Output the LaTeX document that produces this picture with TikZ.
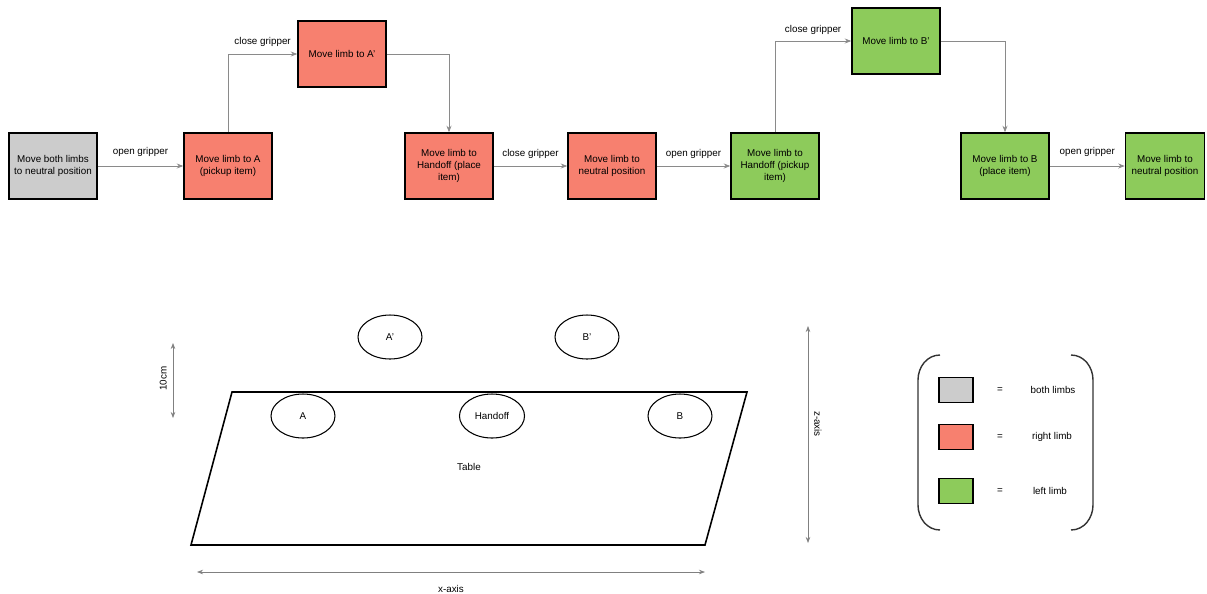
\documentclass[tikz,border=0pt]{standalone}
\usepackage{fontspec}
\setmainfont{Liberation Sans}
\usepackage{tikz}
\usetikzlibrary{arrows.meta,positioning,calc,shapes.geometric}
\definecolor{bothfill}{HTML}{CCCCCC}
\definecolor{rightfill}{HTML}{F7806F}
\definecolor{leftfill}{HTML}{8DCB5B}
\definecolor{linkgray}{HTML}{8A8A8A}
\tikzset{
  >=Stealth,
  every node/.append style={font=\fontsize{5.6}{6.8}\selectfont},
}
\tikzset{
  stepbox/.style={draw, line width=0.9pt, align=center, inner sep=1pt,
    minimum width=1.76cm, minimum height=1.32cm},
  arrow/.style={-{Stealth[length=1.3mm, width=1mm]}, line width=0.4pt, draw=linkgray},
  spot/.style={draw, ellipse, line width=0.6pt, minimum width=1.28cm, minimum height=0.88cm}
}

\begin{document}
\begin{tikzpicture}[
  x=0.02cm, y=-0.02cm,
  dim/.style={{Stealth[length=1.2mm, width=0.9mm]}-{Stealth[length=1.2mm, width=0.9mm]}, line width=0.4pt, draw=gray},
  swatch/.style={draw, line width=0.7pt, minimum width=0.68cm, minimum height=0.5cm},
  paren/.style={line width=0.8pt, draw=black!80}
]
\useasboundingbox (0,0) rectangle (1207,593);

% Sequence of limb moves (top row)
\node[stepbox, fill=bothfill] (neutralboth) at (53,166) {Move both limbs\\to neutral position};
\node[stepbox, fill=rightfill] (pickA) at (228,166) {Move limb to A\\(pickup item)};
\node[stepbox, fill=rightfill] (liftA) at (342,54) {Move limb to A'};
\node[stepbox, fill=rightfill] (placeH) at (449,166) {Move limb to\\Handoff (place\\item)};
\node[stepbox, fill=rightfill] (neutralR) at (612,166) {Move limb to\\neutral position};
\node[stepbox, fill=leftfill] (pickH) at (775,166) {Move limb to\\Handoff (pickup\\item)};
\node[stepbox, fill=leftfill] (liftB) at (896,41) {Move limb to B'};
\node[stepbox, fill=leftfill] (placeB) at (1005,166) {Move limb to B\\(place item)};
\node[stepbox, fill=leftfill, minimum width=1.58cm] (neutralL) at (1165,166) {Move limb to\\neutral position};

% Transitions (gripper actions)
\draw[arrow] (neutralboth) -- node[above=2pt] {open gripper} (pickA);
\draw[arrow] (pickA.north) |- node[pos=0.75, above=0.5pt] {close gripper} (liftA.west);
\draw[arrow] (liftA.east) -| (placeH.north);
\draw[arrow] (placeH) -- node[above=0.5pt] {close gripper} (neutralR);
\draw[arrow] (neutralR) -- node[above=0.5pt] {open gripper} (pickH);
\draw[arrow] (pickH.north) |- node[pos=0.75, above=0pt] {close gripper} (liftB.west);
\draw[arrow] (liftB.east) -| (placeB.north);
\draw[arrow] (placeB) -- node[above=2pt] {open gripper} (neutralL);

% Table with pickup / handoff spots
\draw[line width=0.9pt] (232,392) -- (747,392) -- (705,545) -- (191,545) -- cycle;
\node (table) at (469,467) {Table};
\node[spot] (spotAp) at (390,337) {A'};
\node[spot] (spotBp) at (587,337) {B'};
\node[spot] (spotA) at (303,416) {A};
\node[spot] (spotH) at (492,416) {Handoff};
\node[spot] (spotB) at (680,416) {B};

% Dimensions
\coordinate (hTop) at (173,343);
\coordinate (hBot) at (173,418);
\draw[dim] (hTop) -- node[midway, above=1pt, rotate=90] {10cm} (hBot);
\coordinate (xLeft) at (197,572);
\coordinate (xRight) at (705,572);
\draw[dim] (xLeft) -- node[midway, below=4pt] {x-axis} (xRight);
\coordinate (zTop) at (808,326);
\coordinate (zBot) at (808,543);
\draw[dim] (zTop) -- node[midway, above=6pt, rotate=-90] {z-axis} (zBot);

% Legend
\draw[paren] (940,355) to[out=180, in=90] (918,380) -- (918,505) to[out=-90, in=180] (940,530);
\draw[paren] (1071,355) to[out=0, in=90] (1093,380) -- (1093,505) to[out=-90, in=0] (1071,530);
\node[swatch, fill=bothfill] (keyboth) at (956,390) {};
\node[swatch, fill=rightfill] (keyright) at (956,437) {};
\node[swatch, fill=leftfill] (keyleft) at (956,491) {};
\node (eqboth) at (1000,390) {=};
\node (eqright) at (1000,437) {=};
\node (eqleft) at (1000,491) {=};
\node (txtboth) at (1053,390) {both limbs};
\node (txtright) at (1052,437) {right limb};
\node (txtleft) at (1050,491) {left limb};

\end{tikzpicture}
\end{document}
